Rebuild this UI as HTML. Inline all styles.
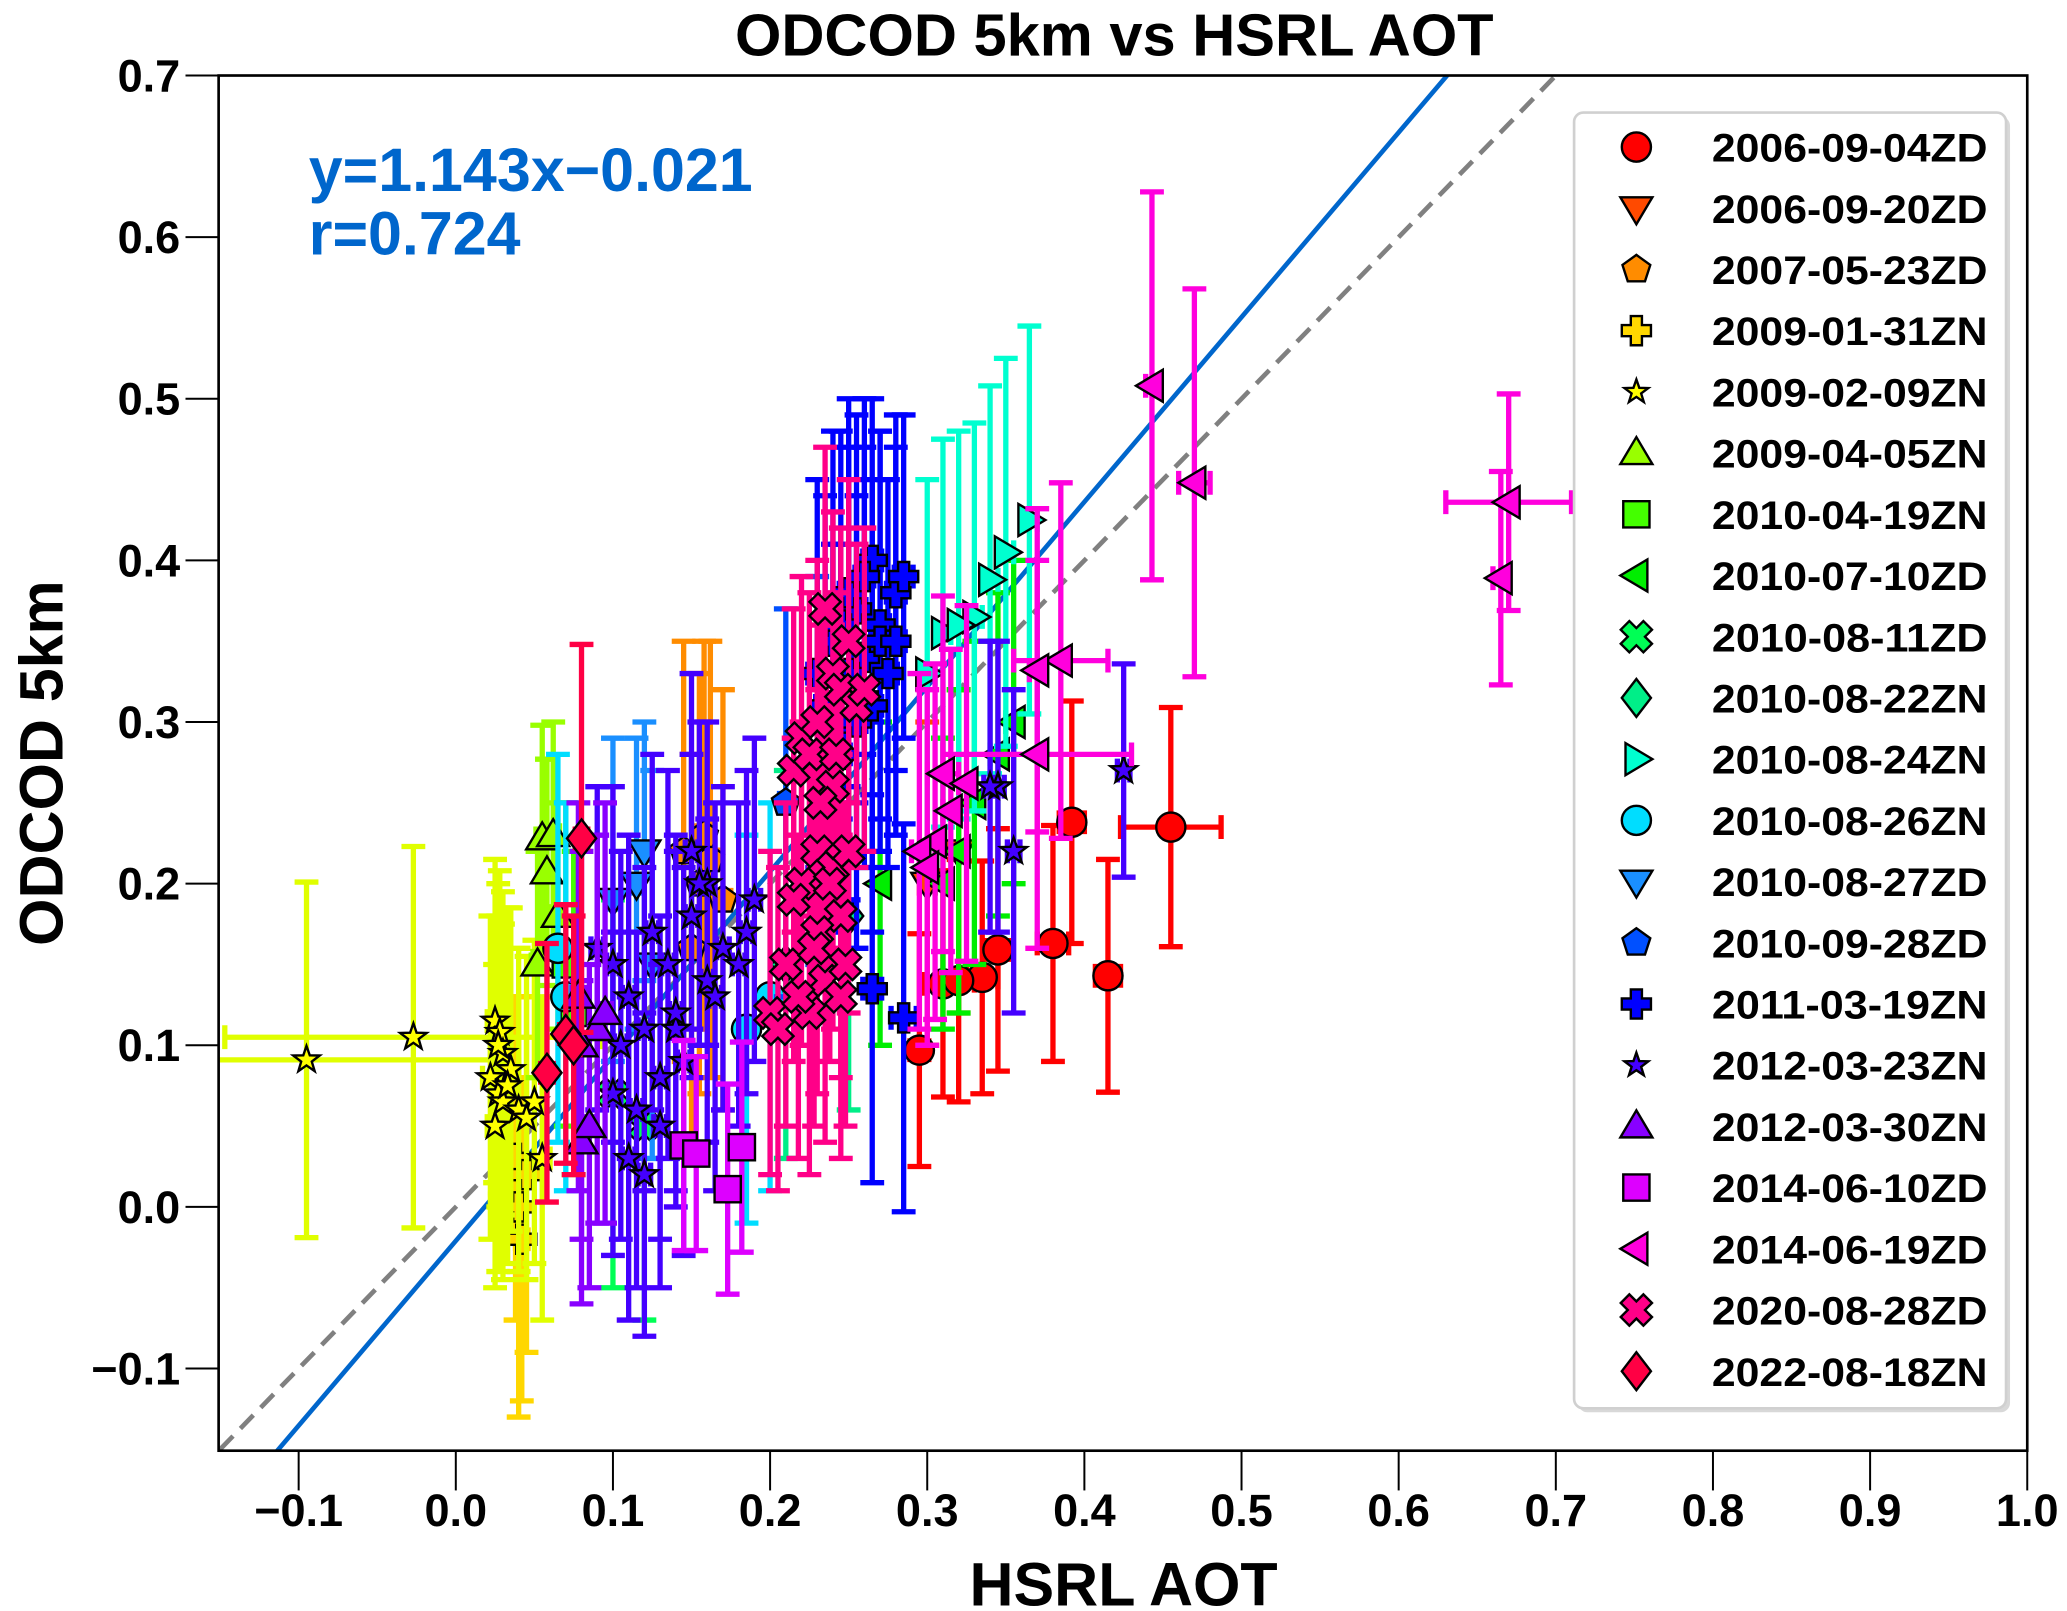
<!DOCTYPE html>
<html><head><meta charset="utf-8"><style>
html,body{margin:0;padding:0;background:#fff;}
svg{display:block;font-family:"Liberation Sans",Arial,sans-serif;font-weight:bold;}
</style></head><body>
<svg id="chart" width="2067" height="1611" viewBox="0 0 1560 1216" preserveAspectRatio="none" xmlns="http://www.w3.org/2000/svg">
<text x="841" y="42" font-size="45" text-anchor="middle">ODCOD 5km vs HSRL AOT</text>
<text x="848" y="1212" font-size="46" text-anchor="middle">HSRL AOT</text>
<text transform="translate(47,576) rotate(-90)" font-size="46" text-anchor="middle">ODCOD 5km</text>
<defs><clipPath id="pc"><rect x="165" y="57" width="1365" height="1038"/></clipPath></defs>
<g id="marks" clip-path="url(#pc)"></g>
<g id="axes"></g>
<g id="legend"></g>
</svg>
<script>
// ---- data (estimated from figure) ----
const xTicks=[-0.1,0,0.1,0.2,0.3,0.4,0.5,0.6,0.7,0.8,0.9,1.0];
const xTickLabels=["\u22120.1","0.0","0.1","0.2","0.3","0.4","0.5","0.6","0.7","0.8","0.9","1.0"];
const yTicks=[-0.1,0,0.1,0.2,0.3,0.4,0.5,0.6,0.7];
const yTickLabels=["\u22120.1","0.0","0.1","0.2","0.3","0.4","0.5","0.6","0.7"];
const fitSlope=1.143, fitIntercept=-0.021;
const seriesNames=["2006-09-04ZD","2006-09-20ZD","2007-05-23ZD","2009-01-31ZN","2009-02-09ZN","2009-04-05ZN","2010-04-19ZN","2010-07-10ZD","2010-08-11ZD","2010-08-22ZN","2010-08-24ZN","2010-08-26ZN","2010-08-27ZD","2010-09-28ZD","2011-03-19ZN","2012-03-23ZN","2012-03-30ZN","2014-06-10ZD","2014-06-19ZD","2020-08-28ZD","2022-08-18ZN"];
const s1x=[0.392,0.455,0.38,0.345,0.335,0.415,0.31,0.295,0.32];
const s1y=[0.238,0.235,0.163,0.159,0.142,0.143,0.138,0.097,0.14];
const s1ey=[0.075,0.074,0.073,0.075,0.072,0.072,0.07,0.072,0.075];
const s1ex=[0.008,0.032,0.01,0.008,0.01,0.008,0.012,0.006,0.01];
const s2x=[0.3,0.32];const s2y=[0.2,0.22];const s2ey=[0.1,0.1];const s2ex=[0.005,0.005];
const s3x=[0.145,0.155,0.162,0.17,0.15,0.158];const s3y=[0.22,0.2,0.215,0.19,0.16,0.23];const s3ey=[0.13,0.13,0.135,0.13,0.12,0.12];const s3ex=[0.005,0.005,0.005,0.005,0.005,0.005];
const s4x=[0.04,0.038,0.042,0.045];const s4y=[0.0,0.03,-0.02,0.02];const s4ey=[0.13,0.1,0.1,0.11];const s4ex=[0.004,0.004,0.004,0.004];
const s5x=[-0.095,-0.027,0.025,0.028,0.03,0.022,0.027,0.035,0.03,0.025,0.04,0.05,0.033,0.027,0.045,0.055];
const s5y=[0.091,0.105,0.115,0.108,0.095,0.08,0.07,0.085,0.065,0.05,0.06,0.065,0.075,0.1,0.055,0.03];
const s5ey=[0.11,0.118,0.1,0.1,0.1,0.1,0.11,0.1,0.11,0.1,0.1,0.1,0.11,0.1,0.1,0.1];
const s5ex=[0.13,0.12,0.005,0.005,0.005,0.005,0.005,0.005,0.005,0.005,0.005,0.005,0.005,0.005,0.005,0.005];
const s6x=[0.055,0.058,0.062,0.052,0.065];const s6y=[0.228,0.207,0.23,0.15,0.18];const s6ey=[0.07,0.07,0.07,0.07,0.07];const s6ex=[0.004,0.004,0.004,0.004,0.004];
const s7x=[0.07,0.075];const s7y=[0.15,0.12];const s7ey=[0.1,0.1];const s7ex=[0.004,0.004];
const s8x=[0.31,0.33,0.345,0.355,0.27,0.32];const s8y=[0.2,0.25,0.28,0.3,0.2,0.22];const s8ey=[0.09,0.1,0.1,0.1,0.1,0.1];const s8ex=[0.005,0.005,0.005,0.005,0.005,0.005];
const s9x=[0.1,0.12];const s9y=[0.07,0.05];const s9ey=[0.12,0.12];const s9ex=[0.004,0.004];
const s10x=[0.21,0.25];const s10y=[0.15,0.18];const s10ey=[0.12,0.12];const s10ex=[0.004,0.004];
const s11x=[0.35,0.34,0.365,0.33,0.31,0.32,0.3];const s11y=[0.405,0.388,0.425,0.365,0.355,0.36,0.33];const s11ey=[0.12,0.12,0.12,0.12,0.12,0.12,0.12];const s11ex=[0.005,0.005,0.005,0.005,0.005,0.005,0.005];
const s12x=[0.065,0.07,0.185,0.2];const s12y=[0.16,0.13,0.11,0.13];const s12ey=[0.12,0.12,0.12,0.12];const s12ex=[0.004,0.004,0.004,0.004];
const s13x=[0.12,0.1,0.125,0.115];const s13y=[0.22,0.19,0.15,0.2];const s13ey=[0.08,0.1,0.12,0.09];const s13ex=[0.004,0.004,0.004,0.004];
const s14x=[0.21,0.23];const s14y=[0.25,0.27];const s14ey=[0.12,0.12];const s14ex=[0.004,0.004];
const s15x=[0.28,0.285,0.27,0.26,0.25,0.265,0.255,0.275,0.24,0.285,0.265,0.235,0.245,0.25,0.26,0.27,0.255,0.23,0.245,0.265,0.28,0.24];
const s15y=[0.38,0.39,0.36,0.34,0.33,0.4,0.37,0.33,0.35,0.117,0.135,0.31,0.36,0.38,0.39,0.35,0.3,0.33,0.28,0.31,0.35,0.29];
const s15ey=[0.11,0.1,0.12,0.13,0.14,0.1,0.12,0.12,0.13,0.12,0.12,0.13,0.12,0.12,0.11,0.13,0.14,0.12,0.13,0.14,0.12,0.12];
const s15ex=[0.006,0.006,0.006,0.006,0.006,0.006,0.006,0.006,0.006,0.008,0.006,0.006,0.006,0.006,0.006,0.006,0.006,0.006,0.006,0.006,0.006,0.006];
const s16x=[0.09,0.1,0.11,0.12,0.13,0.14,0.15,0.16,0.17,0.18,0.19,0.13,0.14,0.15,0.11,0.12,0.1,0.16,0.425,0.345,0.355,0.34,0.105,0.125,0.145,0.165,0.185,0.115,0.135,0.155];
const s16y=[0.16,0.15,0.13,0.02,0.08,0.11,0.22,0.2,0.16,0.15,0.19,0.05,0.12,0.18,0.03,0.11,0.07,0.14,0.27,0.26,0.22,0.26,0.1,0.17,0.09,0.13,0.17,0.06,0.15,0.2];
const s16ey=[0.1,0.11,0.1,0.1,0.1,0.11,0.11,0.1,0.1,0.1,0.1,0.1,0.11,0.1,0.1,0.1,0.1,0.1,0.066,0.09,0.1,0.09,0.12,0.11,0.12,0.12,0.1,0.11,0.12,0.1];
const s16ex=[0.004,0.004,0.004,0.004,0.004,0.004,0.004,0.004,0.004,0.004,0.004,0.004,0.004,0.004,0.004,0.004,0.004,0.004,0.004,0.004,0.004,0.004,0.004,0.004,0.004,0.004,0.004,0.004,0.004,0.004];
const s17x=[0.08,0.085,0.09,0.08,0.095,0.078];const s17y=[0.04,0.05,0.11,0.1,0.12,0.13];const s17ey=[0.1,0.1,0.12,0.12,0.13,0.12];const s17ex=[0.004,0.004,0.004,0.004,0.004,0.004];
const s18x=[0.145,0.153,0.173,0.182];const s18y=[0.038,0.033,0.011,0.037];const s18ey=[0.065,0.06,0.065,0.065];const s18ex=[0.004,0.004,0.004,0.004];
const s19x=[0.443,0.47,0.67,0.665,0.385,0.37,0.37,0.31,0.325,0.315,0.305,0.295,0.3];
const s19y=[0.508,0.448,0.436,0.389,0.338,0.332,0.28,0.268,0.262,0.245,0.226,0.22,0.21];
const s19ey=[0.12,0.12,0.067,0.066,0.11,0.1,0.12,0.11,0.11,0.1,0.11,0.11,0.11];
const s19ex=[0.004,0.01,0.04,0.005,0.03,0.005,0.06,0.01,0.005,0.005,0.005,0.005,0.005];
const s20x=[0.22,0.23,0.24,0.25,0.235,0.245,0.215,0.225,0.255,0.23,0.24,0.22,0.21,0.245,0.235,0.225,0.25,0.24,0.23,0.215,0.26,0.245,0.2,0.205,0.228,0.238,0.248,0.218,0.232,0.242];
const s20y=[0.29,0.3,0.33,0.35,0.37,0.32,0.27,0.28,0.31,0.22,0.21,0.2,0.15,0.18,0.14,0.12,0.22,0.26,0.17,0.19,0.32,0.13,0.12,0.11,0.16,0.2,0.15,0.13,0.25,0.28];
const s20ey=[0.1,0.1,0.1,0.1,0.1,0.1,0.1,0.1,0.1,0.1,0.1,0.1,0.1,0.1,0.1,0.1,0.1,0.1,0.1,0.1,0.1,0.1,0.1,0.1,0.11,0.11,0.1,0.1,0.11,0.1];
const s20ex=[0.004,0.004,0.004,0.004,0.004,0.004,0.004,0.004,0.004,0.004,0.004,0.004,0.004,0.004,0.004,0.004,0.004,0.004,0.004,0.004,0.004,0.004,0.004,0.004,0.004,0.004,0.004,0.004,0.004,0.004];
const s21x=[0.08,0.07,0.075,0.058];const s21y=[0.228,0.107,0.1,0.083];const s21ey=[0.12,0.08,0.08,0.08];const s21ex=[0.004,0.004,0.004,0.004];

const seriesX=[s1x,s2x,s3x,s4x,s5x,s6x,s7x,s8x,s9x,s10x,s11x,s12x,s13x,s14x,s15x,s16x,s17x,s18x,s19x,s20x,s21x];
const seriesY=[s1y,s2y,s3y,s4y,s5y,s6y,s7y,s8y,s9y,s10y,s11y,s12y,s13y,s14y,s15y,s16y,s17y,s18y,s19y,s20y,s21y];
const seriesEY=[s1ey,s2ey,s3ey,s4ey,s5ey,s6ey,s7ey,s8ey,s9ey,s10ey,s11ey,s12ey,s13ey,s14ey,s15ey,s16ey,s17ey,s18ey,s19ey,s20ey,s21ey];
const seriesEX=[s1ex,s2ex,s3ex,s4ex,s5ex,s6ex,s7ex,s8ex,s9ex,s10ex,s11ex,s12ex,s13ex,s14ex,s15ex,s16ex,s17ex,s18ex,s19ex,s20ex,s21ex];
// styles
const colors=["#ff0000","#ff4a00","#ff8c00","#ffd700","#e0ff00","#99ff00","#44ff00","#00ee00","#00ff55","#00ee88","#00ffd0","#00ddff","#1a8fff","#0050ff","#0000ff","#4400ff","#8800ff","#dd00ff","#ff00dd","#ff0088","#ff0044"];
const markerFill=["#ff0000","#ff4a00","#ff8c00","#ffd700","#ffff00","#99ff00","#44ff00","#00ee00","#00ff55","#00ee88","#00ffd0","#00ddff","#1a8fff","#0050ff","#0000ff","#4400ff","#8800ff","#dd00ff","#ff00dd","#ff0088","#ff0044"];
const shapes=["o","v","p","P","*","^","s","<","X","D",">","o","v","p","P","*","^","s","<","X","D"];

const NS="http://www.w3.org/2000/svg";
const X0=344, XS=1186, Y0=911, YS=1220;
function sx(v){return X0+v*XS;}
function sy(v){return Y0-v*YS;}
function mk(tag,attrs,parent){const e=document.createElementNS(NS,tag);for(const k in attrs)e.setAttribute(k,attrs[k]);parent.appendChild(e);return e;}
function polyPts(cx,cy,pts){return pts.map(p=>(cx+p[0]).toFixed(1)+","+(cy+p[1]).toFixed(1)).join(" ");}
function markerPoints(shape,s){
  if(shape==="v")return [[0,s*1.1],[-s*1.1,-s*0.75],[s*1.1,-s*0.75]];
  if(shape==="^")return [[0,-s*1.1],[-s*1.1,s*0.75],[s*1.1,s*0.75]];
  if(shape==="<")return [[-s*1.1,0],[s*0.75,-s*1.1],[s*0.75,s*1.1]];
  if(shape===">")return [[s*1.1,0],[-s*0.75,-s*1.1],[-s*0.75,s*1.1]];
  if(shape==="s")return [[-s*0.9,-s*0.9],[s*0.9,-s*0.9],[s*0.9,s*0.9],[-s*0.9,s*0.9]];
  if(shape==="D")return [[0,-s*1.3],[s,0],[0,s*1.3],[-s,0]];
  if(shape==="p"){const a=[];for(let i=0;i<5;i++){const t=-Math.PI/2+i*2*Math.PI/5;a.push([s*Math.cos(t),s*Math.sin(t)]);}return a;}
  if(shape==="*"){const a=[];for(let i=0;i<10;i++){const t=-Math.PI/2+i*Math.PI/5;const r=i%2?s*0.42:s*1.05;a.push([r*Math.cos(t),r*Math.sin(t)]);}return a;}
  if(shape==="P"||shape==="X"){const w=s*0.38,l=s;let a=[[-w,-l],[w,-l],[w,-w],[l,-w],[l,w],[w,w],[w,l],[-w,l],[-w,w],[-l,w],[-l,-w],[-w,-w]];
    if(shape==="X"){const c=Math.SQRT1_2;a=a.map(p=>[(p[0]-p[1])*c*1.1,(p[0]+p[1])*c*1.1]);}return a;}
  return null;
}
function drawMarker(g,shape,cx,cy,s,fill){
  let el;
  if(shape==="o"){el=mk("circle",{cx:cx,cy:cy,r:s,fill:fill,stroke:"#000","stroke-width":1.8},g);}
  else{el=mk("polygon",{points:polyPts(cx,cy,markerPoints(shape,s)),fill:fill,stroke:"#000","stroke-width":1.8,"stroke-linejoin":"miter"},g);}
  return el;
}
const marks=document.getElementById("marks");
const l1=mk("line",{x1:sx(-0.15),y1:sy(-0.15),x2:sx(0.75),y2:sy(0.75),stroke:"#808080","stroke-width":3.5,"stroke-dasharray":"14,8"},marks);


const fx1=-0.15,fx2=0.75;
const l2=mk("line",{x1:sx(fx1),y1:sy(fitSlope*fx1+fitIntercept),x2:sx(fx2),y2:sy(fitSlope*fx2+fitIntercept),stroke:"#0066cc","stroke-width":3.5},marks);


for(let i=0;i<seriesNames.length;i++){
  const g=mk("g",{},marks);
  
  
  const xs=seriesX[i],ys=seriesY[i],ey=seriesEY[i],ex=seriesEX[i],c=colors[i];
  for(let j=0;j<xs.length;j++){
    const cx=sx(xs[j]),cy=sy(ys[j]);
    const t=sy(ys[j]+ey[j]),b=sy(ys[j]-ey[j]),lx=sx(xs[j]-ex[j]),rx=sx(xs[j]+ex[j]);
    const eb=mk("path",{d:`M${cx},${t}V${b}M${cx-9},${t}H${cx+9}M${cx-9},${b}H${cx+9}M${lx},${cy}H${rx}M${lx},${cy-9}V${cy+9}M${rx},${cy-9}V${cy+9}`,stroke:c,"stroke-width":4,fill:"none"},g);
    
    
  }
  for(let j=0;j<xs.length;j++){
    const m=drawMarker(g,shapes[i],sx(xs[j]),sy(ys[j]),shapes[i]==="*"?10:11,markerFill[i]);
    
    
  }
}
const axes=document.getElementById("axes");
const fr=mk("rect",{x:165,y:57,width:1365,height:1038,fill:"none",stroke:"#000","stroke-width":2},axes);


for(let i=0;i<xTicks.length;i++){
  const x=sx(xTicks[i]);
  const tk=mk("line",{x1:x,y1:1095,x2:x,y2:1125,stroke:"#000","stroke-width":1.5},axes);
  
  
  const tl=mk("text",{x:x,y:1152,"font-size":34,"text-anchor":"middle"},axes);
  tl.textContent=xTickLabels[i];
  
  
}
for(let i=0;i<yTicks.length;i++){
  const y=sy(yTicks[i]);
  const tk=mk("line",{x1:140,y1:y,x2:165,y2:y,stroke:"#000","stroke-width":1.5},axes);
  
  
  const tl=mk("text",{x:136,y:y+12,"font-size":34,"text-anchor":"end"},axes);
  tl.textContent=yTickLabels[i];
  
  
}
const eq=mk("text",{x:233,y:144,"font-size":46,fill:"#0066cc"},axes);
eq.textContent="y=1.143x\u22120.021";


const rr=mk("text",{x:233,y:192,"font-size":46,fill:"#0066cc"},axes);
rr.textContent="r=0.724";


const lg=document.getElementById("legend");
mk("rect",{x:1191,y:88,width:326,height:978,rx:7,fill:"#d8d8d8"},lg);
const lb=mk("rect",{x:1188,y:85,width:326,height:978,rx:7,fill:"#fff",stroke:"#d0d0d0","stroke-width":2},lg);


for(let i=0;i<seriesNames.length;i++){
  const y=111+i*46.2;
  const g=mk("g",{},lg);
  
  
  drawMarker(g,shapes[i],1235,y,shapes[i]==="*"?9:11,markerFill[i]);
  const t=mk("text",{x:1292,y:y+11,"font-size":30,textLength:208,lengthAdjust:"spacingAndGlyphs"},g);
  t.textContent=seriesNames[i];
}
</script>
</body></html>
